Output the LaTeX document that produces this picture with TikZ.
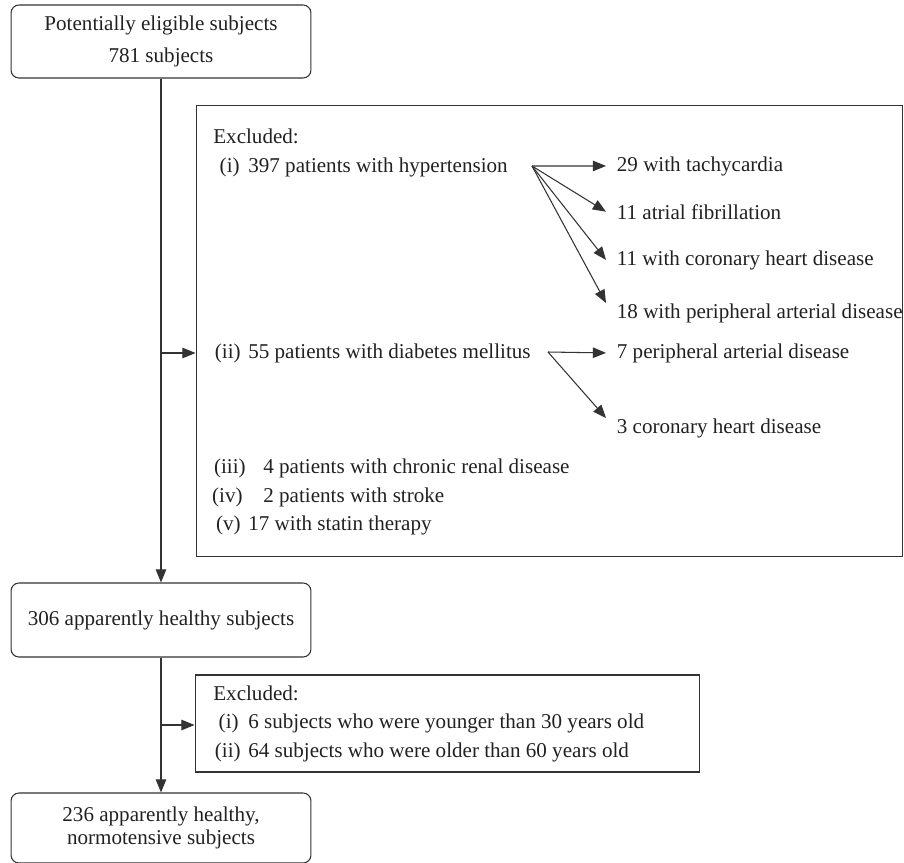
\documentclass[tikz,border=0pt]{standalone}
\usepackage{fontspec}
\setmainfont{Liberation Serif}
\usetikzlibrary{arrows.meta,positioning}

\begin{document}
\begin{tikzpicture}[x = 0.02cm, y = -0.02cm, > = {Triangle[length=7.5pt,width=6pt]},
    every node/.style = {text = black!87, font = \fontsize{12}{13}\selectfont},
    box/.style = {draw = black!80, line width = 0.6pt, rounded corners = 4.5pt, minimum width = 6cm, align = center},
    exclbox/.style = {draw = black!80, line width = 0.6pt, inner sep = 0pt},
    arr/.style = {->, draw = black!80, line width = 0.6pt},
    item/.style = {anchor = base west, inner sep = 0pt},
    num/.style = {anchor = base east, inner sep = 0pt},
    branch/.style = {anchor = base west, inner xsep = 6pt, inner ysep = 0pt}]
    \useasboundingbox (0,0) rectangle (904,863);
    % main column
    \node at (161,41.5) [box, minimum height = 1.46cm] (start) {Potentially eligible subjects\\[5pt]781 subjects};
    \node at (161,620) [box, minimum height = 1.48cm] (healthy) {306 apparently healthy subjects};
    \node at (161,828) [box, minimum height = 1.4cm] (normo) {236 apparently healthy,\\normotensive subjects};
    \draw[arr] (start) -- (healthy);
    \draw[arr] (healthy) -- (normo);
    % first exclusion
    \node at (549.5,331) [exclbox, minimum width = 14.14cm, minimum height = 9.04cm] (excl1) {};
    \coordinate (j1) at (161,353);
    \draw[arr] (j1) -- (j1 -| excl1.west);
    \node at (213,143) [item] (exhead1) {Excluded:};
    \node at (240,172) [num] (n1) {(i)};
    \node at (248,172) [item] (hyp) {397 patients with hypertension};
    \coordinate (h1) at (532,166);
    \node at (606,171) [branch] (tachy) {29 with tachycardia};
    \node at (606,219) [branch] (afib) {11 atrial fibrillation};
    \node at (606,265) [branch] (chd1) {11 with coronary heart disease};
    \node at (606,318) [branch] (pad1) {18 with peripheral arterial disease};
    \draw[arr] (h1) -- (tachy.west);
    \draw[arr] (h1) -- (afib.west);
    \draw[arr] (h1) -- (chd1.west);
    \draw[arr] (h1) -- (pad1.north west);
    \node at (241,358) [num] (n2) {(ii)};
    \node at (248,358) [item] (dm) {55 patients with diabetes mellitus};
    \coordinate (h2) at (548,352);
    \node at (606,358) [branch] (pad2) {7 peripheral arterial disease};
    \node at (606,433) [branch] (chd2) {3 coronary heart disease};
    \draw[arr] (h2) -- (pad2.west);
    \draw[arr] (h2) -- (chd2.north west);
    \node at (246,473) [num] (n3) {(iii)};
    \node at (263,473) [item] (renal) {4 patients with chronic renal disease};
    \node at (243,502) [num] (n4) {(iv)};
    \node at (263,502) [item] (stroke) {2 patients with stroke};
    \node at (241,530) [num] (n5) {(v)};
    \node at (248,530) [item] (statin) {17 with statin therapy};
    % second exclusion
    \node at (447.5,723.5) [exclbox, minimum width = 10.1cm, minimum height = 1.94cm] (excl2) {};
    \coordinate (j2) at (161,725);
    \draw[arr] (j2) -- (j2 -| excl2.west);
    \node at (213,700) [item] (exhead2) {Excluded:};
    \node at (239,728) [num] (m1) {(i)};
    \node at (248,728) [item] (young) {6 subjects who were younger than 30 years old};
    \node at (241,757) [num] (m2) {(ii)};
    \node at (248,757) [item] (old) {64 subjects who were older than 60 years old};
\end{tikzpicture}
\end{document}
